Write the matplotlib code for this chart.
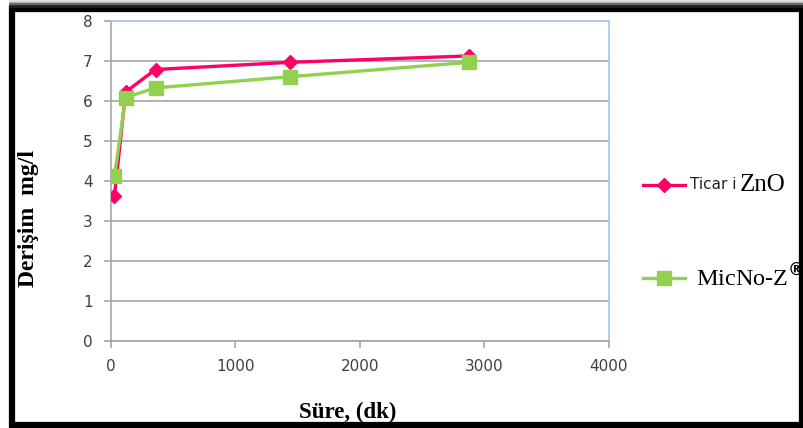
import matplotlib.pyplot as plt
from matplotlib.lines import Line2D
from matplotlib.patches import Rectangle

# time (min) and concentration (mg/l)
sure = [30, 120, 360, 1440, 2880]
ticari_zno = [3.62, 6.22, 6.78, 6.96, 7.12]
micno_z = [4.12, 6.08, 6.32, 6.60, 6.96]

x_ticks = [0, 1000, 2000, 3000, 4000]
y_ticks = [0, 1, 2, 3, 4, 5, 6, 7, 8]

PINK = "#FF0066"
GREEN = "#92D050"
GRID = "#A6A6A6"
SERIF = "Liberation Serif"

fig = plt.figure(figsize=(8.04, 4.28), dpi=100)
ax = fig.add_axes([0.1377, 0.204, 0.6193, 0.7476])

ax.plot(sure, ticari_zno, color=PINK, lw=2.4, marker="D", ms=7, zorder=3)
ax.plot(sure, micno_z, color=GREEN, lw=2.4, marker="s", ms=10, zorder=4)

ax.set_xlim(0, 4000)
ax.set_ylim(0, 8)
ax.set_xticks(x_ticks)
ax.set_yticks(y_ticks)
ax.yaxis.grid(True, color=GRID, lw=1.2)
ax.set_axisbelow(True)
ax.tick_params(direction="out", length=5, width=1.2, color=GRID,
               labelsize=11, labelcolor="#404040")
ax.tick_params(axis="y", pad=8)
ax.tick_params(axis="x", pad=8)

for side in ["left", "bottom"]:
    ax.spines[side].set_color(GRID)
    ax.spines[side].set_linewidth(1.2)
for side in ["top", "right"]:
    ax.spines[side].set_color("#A9C4EB")
    ax.spines[side].set_linewidth(1.2)

fig.text(0.036, 0.49, "Derişim  mg/l", rotation=90, ha="center", va="center",
         fontsize=17, fontweight="bold", family=SERIF)
fig.text(0.433, 0.037, "Süre, (dk)", ha="center", va="center",
         fontsize=16.5, fontweight="bold", family=SERIF)

# legend, drawn by hand to mimic the mixed fonts
fig.add_artist(Line2D([0.800, 0.852], [0.568, 0.568], color=PINK, lw=2.4,
                      transform=fig.transFigure))
fig.add_artist(Line2D([0.826], [0.568], color=PINK, marker="D", ms=7,
                      transform=fig.transFigure))
fig.text(0.858, 0.568, "Ticar i", ha="left", va="center", fontsize=11,
         family="DejaVu Sans", color="#222222")
fig.text(0.920, 0.568, "ZnO", ha="left", va="center", fontsize=18, family=SERIF)

fig.add_artist(Line2D([0.800, 0.852], [0.350, 0.350], color=GREEN, lw=2.4,
                      transform=fig.transFigure))
fig.add_artist(Line2D([0.826], [0.350], color=GREEN, marker="s", ms=10,
                      transform=fig.transFigure))
fig.text(0.866, 0.350, "MicNo-Z$^{\\mathbf{®}}$", ha="left", va="center",
         fontsize=17.5, family=SERIF)

# black frame with a soft shadow on top
for i, g in enumerate(["#DDDDDD", "#AAAAAA", "#666666", "#222222"]):
    fig.add_artist(Line2D([0.012, 0.998], [0.998 - i * 0.004] * 2, color=g, lw=2,
                          transform=fig.transFigure))
fig.add_artist(Rectangle((0.015, 0.008), 0.982, 0.972, fill=False,
                         edgecolor="black", lw=4.5, transform=fig.transFigure))

fig.savefig("out.png", dpi=100)
